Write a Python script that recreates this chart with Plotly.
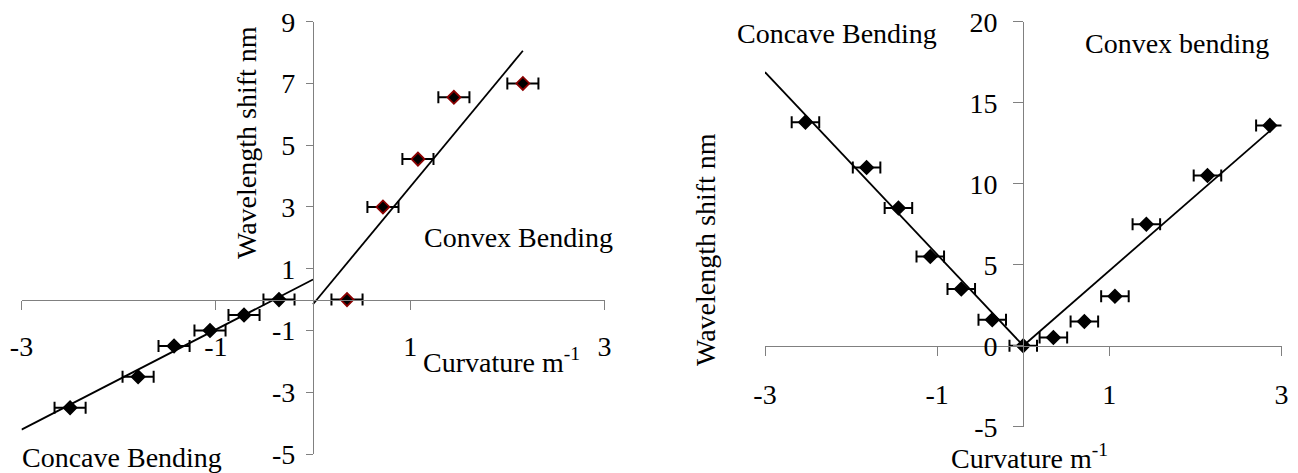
import plotly.graph_objects as go

W, H = 1298, 473

# ---------------- data ----------------
# Left chart
left_concave_x = [-2.50, -1.80, -1.43, -1.06, -0.71, -0.35]
left_concave_y = [-3.5, -2.5, -1.5, -1.0, -0.5, 0.0]
left_convex_x = [0.35, 0.72, 1.08, 1.45, 2.16]
left_convex_y = [0.0, 3.0, 4.55, 6.55, 7.0]
left_err = 0.16
left_fit_concave = {"slope": 1.62, "intercept": 0.65, "x0": -3.0, "x1": 0.0}
left_fit_convex = {"slope": 3.80, "intercept": -0.15, "x0": 0.0, "x1": 2.16}
left_xticks = [-3, -1, 1, 3]
left_yticks = [-5, -3, -1, 1, 3, 5, 7, 9]
left_xrange = [-3, 3]
left_yrange = [-5, 9]

# Right chart
right_concave_x = [-2.53, -1.82, -1.45, -1.08, -0.72, -0.36, 0.0]
right_concave_y = [13.8, 11.0, 8.5, 5.5, 3.5, 1.6, 0.0]
right_convex_x = [0.35, 0.71, 1.065, 1.43, 2.14, 2.865]
right_convex_y = [0.5, 1.5, 3.05, 7.5, 10.5, 13.6]
right_err = 0.16
right_fit_concave = {"slope": -5.63, "intercept": 0.0, "x0": -3.0, "x1": 0.0}
right_fit_convex = {"slope": 4.63, "intercept": 0.0, "x0": 0.0, "x1": 2.865}
right_xticks = [-3, -1, 1, 3]
right_yticks = [-5, 0, 5, 10, 15, 20]
right_xrange = [-3, 3]
right_yrange = [-5, 20]

# ---------------- helpers ----------------
def px(x):
    return x / W

def py(y):
    return 1 - y / H

FONT = "Liberation Serif"
AXC = "#808080"

left_xdom = [px(21.5), px(604.5)]
left_ydom = [py(454), py(21.7)]
right_xdom = [px(765), px(1281.5)]
right_ydom = [py(426.7), py(21.7)]

def zero_pos(dom, rng):
    return dom[0] + (0 - rng[0]) / (rng[1] - rng[0]) * (dom[1] - dom[0])

def fit_xy(f):
    xs = [f["x0"], f["x1"]]
    return xs, [f["slope"] * x + f["intercept"] for x in xs]

fig = go.Figure()

def add_points(x, y, err, xa, ya, outline):
    fig.add_trace(go.Scatter(
        x=x, y=y, mode="markers", xaxis=xa, yaxis=ya,
        marker=dict(symbol="diamond", size=10, color="black",
                    line=dict(color=outline, width=1.8)),
        error_x=dict(type="constant", value=err, color="black",
                     thickness=2, width=6),
        showlegend=False, hoverinfo="skip", cliponaxis=False))

def add_fit(f, xa, ya):
    xs, ys = fit_xy(f)
    fig.add_trace(go.Scatter(x=xs, y=ys, mode="lines", xaxis=xa, yaxis=ya,
                             line=dict(color="black", width=1.8),
                             showlegend=False, hoverinfo="skip"))

add_fit(left_fit_concave, "x", "y")
add_fit(left_fit_convex, "x", "y")
add_points(left_concave_x, left_concave_y, left_err, "x", "y", "black")
add_points(left_convex_x, left_convex_y, left_err, "x", "y", "#8B0000")

add_fit(right_fit_concave, "x2", "y2")
add_fit(right_fit_convex, "x2", "y2")
add_points(right_concave_x, right_concave_y, right_err, "x2", "y2", "black")
add_points(right_convex_x, right_convex_y, right_err, "x2", "y2", "black")

tickfont = dict(family=FONT, size=28, color="black")

def xaxis(dom, rng, ticks, ydom, yrng, standoff):
    return dict(domain=dom, range=rng, tickvals=ticks, ticktext=[str(t) for t in ticks],
                anchor="free", position=zero_pos(ydom, yrng), automargin=False,
                showline=True, linecolor=AXC, linewidth=1.3, ticks="outside",
                ticklen=9, tickcolor=AXC, tickwidth=1.3, showgrid=False, zeroline=False,
                tickfont=tickfont, ticklabelstandoff=standoff, fixedrange=True)

def yaxis(dom, rng, ticks, xdom, xrng, standoff, ticklen):
    return dict(domain=dom, range=rng, tickvals=ticks, ticktext=[str(t) for t in ticks],
                anchor="free", position=zero_pos(xdom, xrng), automargin=False,
                showline=True, linecolor=AXC, linewidth=1.3, ticks="outside",
                ticklen=ticklen, tickcolor=AXC, tickwidth=1.3, showgrid=False, zeroline=False,
                tickfont=tickfont, ticklabelstandoff=standoff, fixedrange=True)

xa1 = xaxis(left_xdom, left_xrange, left_xticks, left_ydom, left_yrange, 13)
xa2 = xaxis(right_xdom, right_xrange, right_xticks, right_ydom, right_yrange, 15)
ya1 = yaxis(left_ydom, left_yrange, left_yticks, left_xdom, left_xrange, 5, 7)
ya2 = yaxis(right_ydom, right_yrange, right_yticks, right_xdom, right_xrange, 10, 10)

textfont = dict(family=FONT, size=28, color="black")

def ann(text, x, y, xanchor="center", yanchor="middle", angle=0):
    return dict(text=text, x=px(x), y=py(y), xref="paper", yref="paper",
                xanchor=xanchor, yanchor=yanchor, showarrow=False,
                textangle=angle, font=textfont)

annotations = [
    ann("Wavelength shift nm", 246, 143, angle=-90),
    ann("Convex Bending", 422, 237, xanchor="left"),
    ann("Concave Bending", 20, 457, xanchor="left"),
    ann("Curvature m<sup>-1</sup>", 421, 360, xanchor="left"),
    ann("Wavelength shift nm", 705, 250, angle=-90),
    ann("Concave Bending", 735, 33, xanchor="left"),
    ann("Convex bending", 1083, 43, xanchor="left"),
    ann("Curvature m<sup>-1</sup>", 1029, 456),
]

fig.update_layout(
    width=W, height=H,
    margin=dict(l=0, r=0, t=0, b=0, autoexpand=False),
    paper_bgcolor="white", plot_bgcolor="white",
    xaxis=xa1, yaxis=ya1, xaxis2=xa2, yaxis2=ya2,
    annotations=annotations,
    showlegend=False,
)

fig.write_html("out.html", config={"displayModeBar": False},
               post_script="document.body.style.margin='0';document.body.style.padding='0';document.body.style.overflow='hidden';")
